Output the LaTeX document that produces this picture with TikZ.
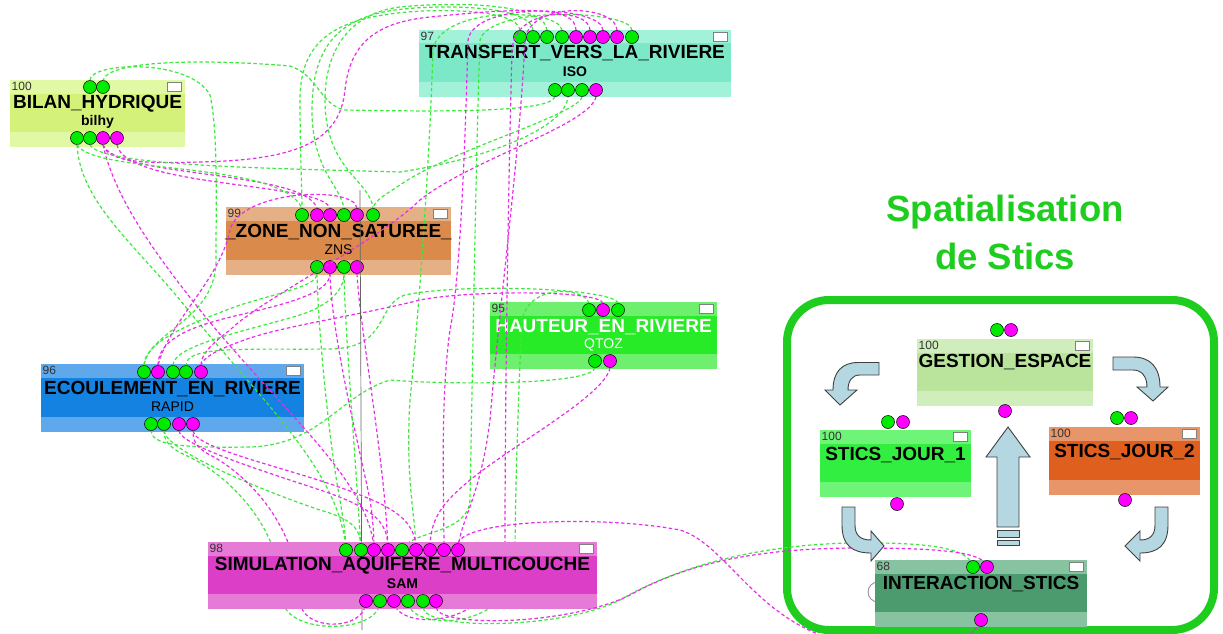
\documentclass[tikz,border=0pt]{standalone}
\usepackage{fontspec}
\setmainfont{Liberation Sans}
\definecolor{lg}{RGB}{60,232,60}
\definecolor{lm}{RGB}{232,45,232}
\definecolor{pgc}{RGB}{0,235,0}
\definecolor{pmc}{RGB}{255,0,255}
\definecolor{panelg}{RGB}{30,205,30}
\definecolor{arrowfill}{RGB}{180,215,225}
\definecolor{bilB}{RGB}{225,248,165}\definecolor{bilM}{RGB}{212,242,122}
\definecolor{traB}{RGB}{162,242,218}\definecolor{traM}{RGB}{125,232,200}
\definecolor{znsB}{RGB}{230,176,135}\definecolor{znsM}{RGB}{218,138,75}
\definecolor{hauB}{RGB}{110,240,110}\definecolor{hauM}{RGB}{40,235,40}
\definecolor{ecoB}{RGB}{95,168,235}\definecolor{ecoM}{RGB}{20,130,225}
\definecolor{samB}{RGB}{230,122,215}\definecolor{samM}{RGB}{220,62,200}
\definecolor{gesB}{RGB}{208,238,188}\definecolor{gesM}{RGB}{186,228,156}
\definecolor{sj1B}{RGB}{110,245,120}\definecolor{sj1M}{RGB}{50,238,65}
\definecolor{sj2B}{RGB}{232,150,105}\definecolor{sj2M}{RGB}{222,95,30}
\definecolor{intB}{RGB}{135,195,160}\definecolor{intM}{RGB}{75,155,110}
\tikzset{
  lkg/.style={lg, line width=1.2pt, dash pattern=on 3.5pt off 2.5pt},
  lkm/.style={lm, line width=1.2pt, dash pattern=on 3.5pt off 2.5pt},
  pg/.style={circle, fill=pgc, draw=black, line width=0.5pt, minimum size=13pt, inner sep=0pt},
  pm/.style={circle, fill=pmc, draw=black, line width=0.5pt, minimum size=13pt, inner sep=0pt},
  numtxt/.style={font=\fontsize{12}{12}\selectfont, text=black!80, inner sep=1.5pt},
  ttl/.style={font=\fontsize{19}{19}\selectfont\bfseries, inner sep=0pt},
  sub/.style={font=\fontsize{14}{14}\selectfont\bfseries, inner sep=0pt},
  subr/.style={font=\fontsize{14}{14}\selectfont, inner sep=0pt},
  flagbox/.style={draw=gray, fill=white, line width=0.9pt, minimum width=14pt, minimum height=9pt, inner sep=0pt},
  bigarrow/.style={fill=arrowfill, draw=black!75, line width=0.9pt},
}
\newcommand\modbox[8]{%
  \fill[#5] (#1,#2) rectangle (#3,#4);
  \fill[#6] (#1,#2+13.5) rectangle (#3,#4-15);
  \node[numtxt, anchor=north west] (#8num) at (#1,#2) {#7};
  \node[flagbox] (#8flag) at (#3-11,#2+6.5) {};
}
\begin{document}
\begin{tikzpicture}[x=1pt, y=-1pt]
\clip (0,0) rectangle (1223,634);
\fill[white] (0,0) rectangle (1223,634);

% ---------- boxes (drawn below the connectors) ----------
\modbox{10}{80}{185}{147}{bilB}{bilM}{100}{bil}
\node[ttl] (bilT) at (97.5,104) {BILAN\_HYDRIQUE};
\node[sub] (bilS) at (97.5,122) {bilhy};

\modbox{419}{30}{731}{97}{traB}{traM}{97}{tra}
\node[ttl] (traT) at (575,53) {TRANSFERT\_VERS\_LA\_RIVIERE};
\node[sub] (traS) at (575,72) {ISO};

\modbox{226}{207}{451}{275}{znsB}{znsM}{99}{zns}
\node[ttl] (znsT) at (338.5,232) {\_ZONE\_NON\_SATUREE\_};
\node[subr] (znsS) at (338.5,250) {ZNS};

\modbox{490}{302}{717}{369}{hauB}{hauM}{95}{hau}
\node[ttl, text=white] (hauT) at (603.5,327) {HAUTEUR\_EN\_RIVIERE};
\node[subr, text=white] (hauS) at (603.5,345) {QTOZ};

\modbox{41}{364}{304}{432}{ecoB}{ecoM}{96}{eco}
\node[ttl] (ecoT) at (172.5,389) {ECOULEMENT\_EN\_RIVIERE};
\node[subr] (ecoS) at (172.5,407) {RAPID};

% ---------- ports ----------
\node[pg] (bt1) at (90,87) {}; \node[pg] (bt2) at (103,87) {};
\node[pg] (bb1) at (77,138) {}; \node[pg] (bb2) at (90,138) {};
\node[pm] (bb3) at (103,138) {}; \node[pm] (bb4) at (117,138) {};

\node[pg] (tt1) at (520,37) {}; \node[pg] (tt2) at (533,37) {};
\node[pg] (tt3) at (547,37) {}; \node[pg] (tt4) at (562,37) {};
\node[pm] (tt5) at (576,37) {}; \node[pm] (tt6) at (590,37) {};
\node[pm] (tt7) at (603,37) {}; \node[pm] (tt8) at (617,37) {};
\node[pg] (tt9) at (632,37) {};
\node[pg] (tb1) at (555,90) {}; \node[pg] (tb2) at (568,90) {};
\node[pg] (tb3) at (582,90) {}; \node[pm] (tb4) at (596,90) {};

\node[pg] (zt1) at (302,215) {}; \node[pm] (zt2) at (317,215) {};
\node[pm] (zt3) at (330,215) {}; \node[pg] (zt4) at (344,215) {};
\node[pm] (zt5) at (357,215) {}; \node[pg] (zt6) at (373,215) {};
\node[pg] (zb1) at (317,267) {}; \node[pm] (zb2) at (330,267) {};
\node[pg] (zb3) at (344,267) {}; \node[pm] (zb4) at (357,267) {};

\node[pg] (ht1) at (589,310) {}; \node[pm] (ht2) at (603,310) {};
\node[pg] (ht3) at (618,310) {};
\node[pg] (hb1) at (595,361) {}; \node[pm] (hb2) at (610,361) {};

\node[pg] (et1) at (144,372) {}; \node[pm] (et2) at (158,372) {};
\node[pg] (et3) at (173,372) {}; \node[pg] (et4) at (186,372) {};
\node[pm] (et5) at (201,372) {};
\node[pg] (eb1) at (151,424) {}; \node[pg] (eb2) at (164,424) {};
\node[pm] (eb3) at (179,424) {}; \node[pm] (eb4) at (193,424) {};

% SAM port positions (port nodes are drawn over the SAM box later)
\path (346,550) coordinate (st1) (361,550) coordinate (st2) (374,550) coordinate (st3)
      (388,550) coordinate (st4) (402,550) coordinate (st5) (416,550) coordinate (st6)
      (430,550) coordinate (st7) (444,550) coordinate (st8) (458,550) coordinate (st9)
      (366,601) coordinate (sb1) (380,601) coordinate (sb2) (394,601) coordinate (sb3)
      (408,601) coordinate (sb4) (423,601) coordinate (sb5) (436,601) coordinate (sb6);
\path (360,190) coordinate (vtop) (362,630) coordinate (vbot);

% ---------- connectors ----------
\draw[lkg] (bt1.north) .. controls (90,62) and (190,58) .. (210,95) .. controls (218,130) and (216,200) .. (216,260) .. controls (216,320) and (150,330) .. (et1.north);
\draw[lkg] (tb1.south) .. controls (550,112) and (450,112) .. (345,110) .. controls (320,105) and (318,75) .. (290,66) .. controls (220,60) and (110,58) .. (bt2.north);
\draw[lkg] (tt1.north) .. controls (518,8) and (430,8) .. (390,14) .. controls (330,22) and (300,45) .. (300,100) .. controls (300,150) and (302,190) .. (zt1.north);
\draw[lkg] (tt2.north) .. controls (531,5) and (440,4) .. (395,10) .. controls (340,18) and (312,45) .. (312,110) .. controls (312,170) and (340,185) .. (zt4.north);
\draw[lkg] (tt3.north) .. controls (545,2) and (450,2) .. (400,7) .. controls (350,13) and (325,50) .. (325,100) .. controls (325,170) and (370,180) .. (zt6.north);
\draw[lkm] (bb3.south) .. controls (108,165) and (160,163) .. (200,162) .. controls (300,160) and (340,140) .. (345,90) .. controls (350,40) and (380,22) .. (430,17) .. controls (520,8) and (576,5) .. (tt5.north);
\draw[lkm] (bb3.south) .. controls (115,178) and (305,170) .. (zt2.north);
\draw[lkm] (bb4.south) .. controls (125,188) and (322,182) .. (zt3.north);
\draw[lkg] (bb2.south) .. controls (100,165) and (250,168) .. (400,172) .. controls (480,160) and (565,130) .. (tb2.south);
\draw[lkg] (bb1.south) .. controls (80,200) and (130,240) .. (180,300) .. controls (260,400) and (340,470) .. (st1);
\draw[lkm] (bb3.south) .. controls (115,200) and (160,260) .. (200,310) .. controls (280,410) and (370,480) .. (st3);
\draw[lkg] (bb1.south) .. controls (95,175) and (280,160) .. (zt1.north);
\draw[lkg] (tb3.south) .. controls (578,115) and (450,150) .. (400,185) .. controls (385,195) and (375,200) .. (zt6.north);
\draw[lkm] (tb4.south) .. controls (590,125) and (470,160) .. (420,200) .. controls (380,240) and (260,300) .. (230,330) .. controls (210,345) and (201,355) .. (et5.north);
\draw[lkg] (tt4.north) .. controls (560,8) and (440,5) .. (433,50) .. controls (430,150) and (420,300) .. (410,400) .. controls (405,480) and (416,520) .. (st6);
\draw[lkg] (tt9.north) .. controls (632,10) and (490,5) .. (480,40) .. controls (476,150) and (472,400) .. (470,500) .. controls (468,535) and (410,530) .. (st5);
\draw[lkm] (tt6.north) .. controls (590,8) and (515,5) .. (512,50) .. controls (508,200) and (505,400) .. (505,540) .. controls (505,632) and (394,632) .. (sb3);
\draw[lkm] (tt7.north) .. controls (603,6) and (475,0) .. (468,40) .. controls (465,150) and (460,280) .. (450,330) .. controls (440,400) and (444,500) .. (st8);
\draw[lkm] (tt8.north) .. controls (617,5) and (530,0) .. (525,40) .. controls (520,150) and (500,300) .. (490,420) .. controls (480,500) and (460,520) .. (st9);
\draw[lkg] (ht3.north) .. controls (615,288) and (460,283) .. (405,295) .. controls (375,305) and (390,348) .. (330,349) .. controls (250,350) and (186,345) .. (et4.north);
\draw[lkm] (ht2.north) .. controls (600,290) and (470,290) .. (420,300) .. controls (360,315) and (290,325) .. (250,338) .. controls (215,350) and (203,358) .. (et5.north);
\draw[lkg] (ht1.north) .. controls (585,288) and (530,282) .. (522,320) .. controls (518,400) and (515,500) .. (515,560) .. controls (515,632) and (408,632) .. (sb4);
\draw[lkg] (hb1.south) .. controls (592,385) and (450,385) .. (390,380) .. controls (340,395) and (320,445) .. (250,447) .. controls (180,448) and (152,445) .. (eb1.south);
\draw[lkm] (hb2.south) .. controls (605,395) and (520,440) .. (470,480) .. controls (440,505) and (430,520) .. (st7);
\draw[lkg] (et1.north) .. controls (144,340) and (200,320) .. (240,305) .. controls (290,290) and (317,285) .. (zb1.south);
\draw[lkm] (et2.north) .. controls (158,330) and (220,320) .. (260,310) .. controls (300,300) and (330,290) .. (zb2.south);
\draw[lkg] (et3.north) .. controls (173,345) and (250,330) .. (300,315) .. controls (330,305) and (344,290) .. (zb3.south);
\draw[lkm] (eb3.south) .. controls (180,445) and (260,470) .. (320,490) .. controls (380,510) and (388,525) .. (st4);
\draw[lkm] (eb4.south) .. controls (195,450) and (300,470) .. (360,495) .. controls (400,510) and (416,525) .. (st6);
\draw[lkg] (eb2.south) .. controls (165,450) and (260,490) .. (320,510) .. controls (355,520) and (361,530) .. (st2);
\draw[lkm] (sb1) .. controls (366,632) and (300,632) .. (300,600) .. controls (298,520) and (240,470) .. (210,455) .. controls (195,447) and (193,440) .. (eb4.south);
\draw[lkg] (sb2) .. controls (380,635) and (285,635) .. (283,600) .. controls (282,520) and (220,470) .. (185,455) .. controls (168,447) and (164,440) .. (eb2.south);
\draw[lkg] (zb1.south) .. controls (318,330) and (330,450) .. (340,500) .. controls (344,525) and (346,535) .. (st1);
\draw[lkm] (zb2.south) .. controls (332,340) and (360,450) .. (370,500) .. controls (373,520) and (374,535) .. (st3);
\draw[lkg] (zb3.south) .. controls (345,330) and (355,450) .. (st2);
\draw[lkm] (zb4.south) .. controls (360,330) and (385,460) .. (st4);
\draw[lkm] (zt5.north) .. controls (355,185) and (240,190) .. (230,230) .. controls (220,280) and (170,320) .. (et2.north);
\draw[black!60, line width=0.7pt] (vtop) -- (vbot);

% ---------- SAM box (covers the connectors passing behind it) ----------
\modbox{208}{542}{597}{609}{samB}{samM}{98}{sam}
\node[ttl] (samT) at (402.5,566) {SIMULATION\_AQUIFERE\_MULTICOUCHE};
\node[sub] (samS) at (402.5,584) {SAM};
\foreach \n/\s in {st1/pg,st2/pg,st3/pm,st4/pm,st5/pg,st6/pm,st7/pm,st8/pm,st9/pm,
                   sb1/pm,sb2/pg,sb3/pm,sb4/pg,sb5/pg,sb6/pm}
  \node[\s] (P\n) at (\n) {};

% ---------- Spatialisation de Stics ----------
\node[font=\fontsize{36.5}{36.5}\selectfont\bfseries, text=panelg] (sp1) at (1005,212) {Spatialisation};
\node[font=\fontsize{36.5}{36.5}\selectfont\bfseries, text=panelg] (sp2) at (1005,256) {de Stics};
\draw[panelg, line width=8pt, rounded corners=42pt] (787,300) rectangle (1214,630);

% connectors into INTERACTION_STICS
\path (973,567) coordinate (cit1) (987,567) coordinate (cit2) (981,620) coordinate (cib);
\draw[lkg] (Psb5.south) .. controls (425,630) and (560,630) .. (620,600) .. controls (680,565) and (760,545) .. (850,543) .. controls (930,542) and (970,548) .. (cit1);
\draw[lkm] (Psb6.south) .. controls (440,628) and (570,625) .. (630,595) .. controls (690,562) and (760,548) .. (860,548) .. controls (940,548) and (985,552) .. (cit2);
\draw[lkm] (Pst9.north) .. controls (465,520) and (600,515) .. (680,530) .. controls (730,545) and (760,632) .. (860,645) .. controls (940,650) and (975,640) .. (cib);
\draw[black!40, line width=1pt] (878,592) circle (10);

% arrows
\draw[bigarrow] (879,362.5) -- (858,362.5) .. controls (842,362.5) and (833,372) .. (833,390) -- (825,390) -- (840,405) -- (857,390) -- (848,390) .. controls (848,381) and (852,375) .. (860,375) -- (879,375) -- cycle;
\draw[bigarrow] (1113,357) -- (1133,357) .. controls (1150,357) and (1160,367) .. (1160,387) -- (1168,387) -- (1153,401) -- (1137,387) -- (1147,387) .. controls (1147,377) and (1142,370) .. (1133,370) -- (1113,370) -- cycle;
\draw[bigarrow] (842,507) -- (855,507) -- (855,525) .. controls (855,535) and (860,540) .. (871,540) -- (871,531) -- (884,546) -- (871,561) -- (871,553) .. controls (852,553) and (842,545) .. (842,525) -- cycle;
\draw[bigarrow] (1168,507) -- (1155,507) -- (1155,525) .. controls (1155,535) and (1150,540) .. (1140,540) -- (1140,531) -- (1125,546) -- (1140,561) -- (1140,553) .. controls (1158,553) and (1168,545) .. (1168,525) -- cycle;
\draw[bigarrow] (997,527) -- (997,457) -- (986,457) -- (1008,427) -- (1030,457) -- (1019,457) -- (1019,527) -- cycle;
\draw[bigarrow] (997,530) rectangle (1019,537);
\draw[bigarrow] (997,540) rectangle (1019,545);

% Stics boxes
\modbox{917}{339}{1093}{406}{gesB}{gesM}{100}{ges}
\node[ttl] (gesT) at (1005,362) {GESTION\_ESPACE};
\modbox{820}{430}{971}{497}{sj1B}{sj1M}{100}{sj1}
\node[ttl] (sj1T) at (895.5,455) {STICS\_JOUR\_1};
\modbox{1049}{427}{1200}{495}{sj2B}{sj2M}{100}{sj2}
\node[ttl] (sj2T) at (1124.5,452) {STICS\_JOUR\_2};
\modbox{875}{560}{1087}{627}{intB}{intM}{68}{int}
\node[ttl] (intT) at (981,584) {INTERACTION\_STICS};

\node[pg] (gt1) at (997,330) {}; \node[pm] (gt2) at (1011,330) {};
\node[pm] (gb1) at (1005,411) {};
\node[pg] (j1t1) at (888,422) {}; \node[pm] (j1t2) at (903,422) {};
\node[pm] (j1b) at (897,504) {};
\node[pg] (j2t1) at (1117,418) {}; \node[pm] (j2t2) at (1131,418) {};
\node[pm] (j2b) at (1125,500) {};
\node[pg] (it1) at (cit1) {}; \node[pm] (it2) at (cit2) {};
\node[pm] (ib) at (cib) {};
\end{tikzpicture}
\end{document}
